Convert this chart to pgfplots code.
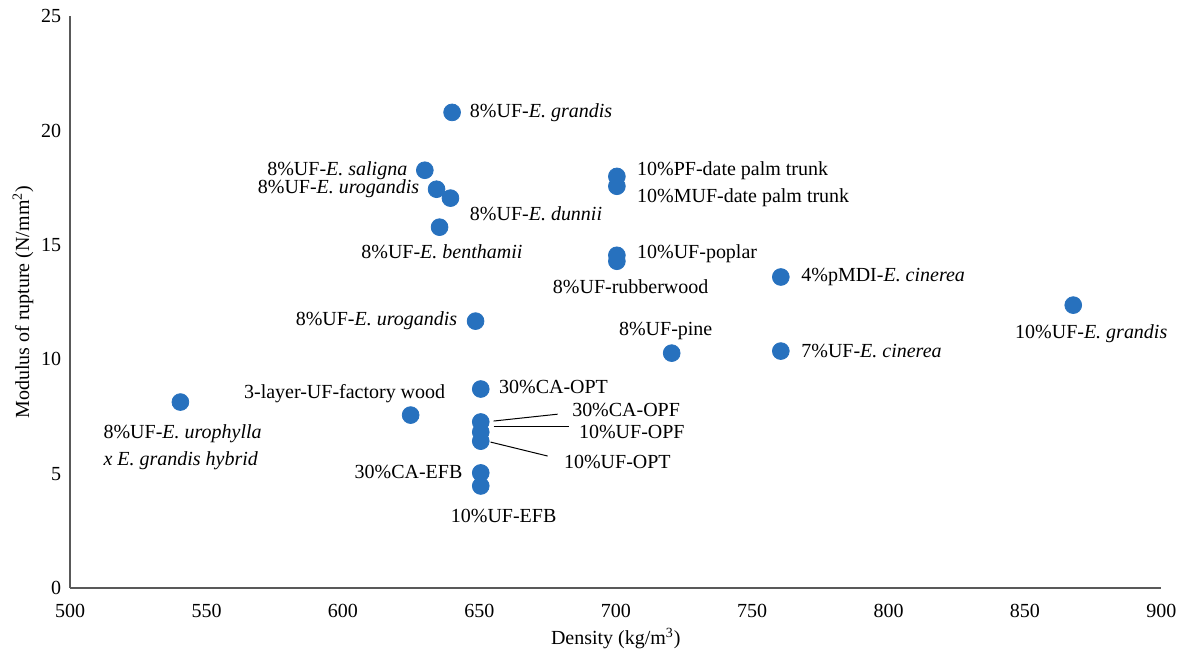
\documentclass[border={3pt 0pt 0pt 1.5pt}]{standalone}
\usepackage{fontspec}
\setmainfont{Liberation Serif}
\usepackage{pgfplots}
\pgfplotsset{compat=1.18}
\definecolor{dotblue}{HTML}{2771BE}
\definecolor{axgray}{HTML}{595959}
\begin{document}
\begin{tikzpicture}
\begin{axis}[
  scale only axis, width=546pt, height=286pt,
  xmin=500, xmax=900, ymin=0, ymax=25,
  axis lines*=left, axis line style={axgray, line width=0.8pt, -},
  xtick={500,550,...,900}, ytick={0,5,...,25},
  major tick length=0pt,
  /pgf/number format/assume math mode=true,
  tick label style={font=\fontsize{10}{12}\selectfont, text=black},
  xticklabel style={yshift=-4.5pt},
  yticklabel style={xshift=-1pt},
  xlabel={Density (kg/m\textsuperscript{3})},
  ylabel={Modulus of rupture (N/mm\textsuperscript{2})},
  xlabel shift=-1.5pt,
  ylabel shift=-3pt,
  label style={font=\fontsize{10}{12}\selectfont},
  clip=false,
]
\addplot[only marks, mark=*, mark size=4.2pt, mark options={draw=dotblue, fill=dotblue}] coordinates {
(640,20.8) (630,18.27) (634.3,17.44) (639.4,17.05) (635.4,15.78)
(700.4,18.0) (700.4,17.57) (700.4,14.55) (700.4,14.29)
(760.5,13.6) (867.7,12.37) (648.6,11.67) (720.5,10.27) (760.5,10.36)
(540.4,8.13) (650.5,8.7) (624.8,7.56)
(650.5,7.26) (650.5,6.82) (650.5,6.42) (650.5,5.03) (650.5,4.46)
};
\begin{scope}[every node/.style={inner sep=0pt, font=\fontsize{10}{13.5}\selectfont}]
\node[anchor=west] at (axis cs:646.4,20.80) {8\%UF-\textit{E. grandis}};
\node[anchor=east] at (axis cs:623.7,18.27) {8\%UF-\textit{E. saligna}};
\node[anchor=east] at (axis cs:628.1,17.48) {8\%UF-\textit{E. urogandis}};
\node[anchor=west] at (axis cs:646.4,16.39) {8\%UF-\textit{E. dunnii}};
\node[anchor=east] at (axis cs:665.9,14.69) {8\%UF-\textit{E. benthamii}};
\node[anchor=west] at (axis cs:707.7,18.27) {10\%PF-date palm trunk};
\node[anchor=west] at (axis cs:707.7,17.09) {10\%MUF-date palm trunk};
\node[anchor=west] at (axis cs:707.7,14.60) {10\%UF-poplar};
\node[anchor=east] at (axis cs:734.1,13.16) {8\%UF-rubberwood};
\node[anchor=west] at (axis cs:767.9,13.59) {4\%pMDI-\textit{E. cinerea}};
\node[anchor=center] at (axis cs:874.3,11.10) {10\%UF-\textit{E. grandis}};
\node[anchor=east] at (axis cs:642.0,11.67) {8\%UF-\textit{E. urogandis}};
\node[anchor=center] at (axis cs:718.3,11.23) {8\%UF-pine};
\node[anchor=west] at (axis cs:767.9,10.36) {7\%UF-\textit{E. cinerea}};
\node[anchor=west, align=left] at (axis cs:512.1,6.14) {8\%UF-\textit{E. urophylla}\\\textit{x E. grandis hybrid}};
\node[anchor=east] at (axis cs:637.6,8.52) {3-layer-UF-factory wood};
\node[anchor=west] at (axis cs:657.1,8.78) {30\%CA-OPT};
\node[anchor=west] at (axis cs:683.9,7.78) {30\%CA-OPF};
\node[anchor=west] at (axis cs:686.4,6.82) {10\%UF-OPF};
\node[anchor=west] at (axis cs:680.9,5.51) {10\%UF-OPT};
\node[anchor=east] at (axis cs:643.9,5.07) {30\%CA-EFB};
\node[anchor=center] at (axis cs:658.9,3.15) {10\%UF-EFB};
\end{scope}
\draw[black, line width=0.5pt] (axis cs:655.2,7.30) -- (axis cs:678.7,7.60);
\draw[black, line width=0.5pt] (axis cs:655.2,7.04) -- (axis cs:682.7,7.04);
\draw[black, line width=0.5pt] (axis cs:654.1,6.38) -- (axis cs:675.0,5.77);
\end{axis}
\end{tikzpicture}
\end{document}
